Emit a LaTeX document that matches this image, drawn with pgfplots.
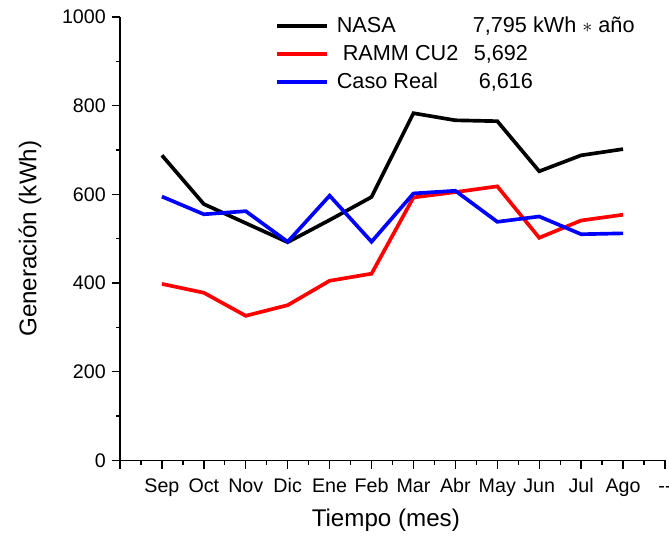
\documentclass[border=0pt]{standalone}
\usepackage{fontspec}
\setmainfont{Liberation Sans}
\usepackage{pgfplots}
\pgfplotsset{compat=1.18}

\pgfplotstableread{
x nasa ramm real
1 688 398 595
2 578 378 555
3 535 326 562
4 492 350 493
5 542 405 597
6 594 421 493
7 783 593 602
8 767 605 608
9 765 618 538
10 652 502 550
11 688 541 510
12 702 554 512
}\gen

\begin{document}
\begin{tikzpicture}
\begin{axis}[
    scale only axis,
    width=327pt, height=266pt,
    xmin=0, xmax=13, ymin=0, ymax=1000,
    axis x line*=bottom, axis y line*=left,
    axis line style={line width=0.8pt},
    tick align=outside,
    tick style={black, line width=0.8pt},
    major tick length=5pt, minor tick length=2.5pt,
    xtick={0,...,13},
    xticklabels={,Sep,Oct,Nov,Dic,Ene,Feb,Mar,Abr,May,Jun,Jul,Ago,{-}{-}},
    minor x tick num=1,
    ytick={0,200,...,1000},
    minor y tick num=1,
    tick label style={font=\fontsize{11.8}{14}\selectfont},
    xticklabel style={yshift=-2pt, text height=9pt},
    /pgf/number format/assume math mode=true,
    /pgf/number format/1000 sep={},
    xlabel={Tiempo (mes)}, ylabel={Generación (kWh)},
    label style={font=\fontsize{14.5}{17}\selectfont},
    xlabel style={at={(axis description cs:0.5,0)}, anchor=center, yshift=-36pt, xshift=-4pt},
    ylabel style={at={(axis description cs:-0.165,0.5)}, anchor=center},
    legend cell align=left,
    legend style={draw=none, fill=none, inner sep=0pt, at={(0.285,1.009)}, anchor=north west,
        font=\fontsize{13}{15}\selectfont, row sep=2.2pt},
    legend image code/.code={\draw[#1] (0pt,0pt) -- (30pt,0pt);},
]
\addplot[black, line width=2.2pt] table[x=x, y=nasa] {\gen};
\addlegendentry{\hspace{2.5pt}\makebox[81.6pt][l]{NASA}7,795 kWh $*$ año}
\addplot[red, line width=2.2pt] table[x=x, y=ramm] {\gen};
\addlegendentry{\hspace{2.5pt}\makebox[82.2pt][l]{\hspace{3.6pt}RAMM CU2}5,692}
\addplot[blue, line width=2.2pt] table[x=x, y=real] {\gen};
\addlegendentry{\hspace{2.5pt}\makebox[85.2pt][l]{Caso Real}6,616}
\end{axis}
\pgfresetboundingbox
\path[use as bounding box] ([shift={(-72pt,-48pt)}]current axis.south west) rectangle ([shift={(2.4pt,10.2pt)}]current axis.north east);
\end{tikzpicture}
\end{document}
